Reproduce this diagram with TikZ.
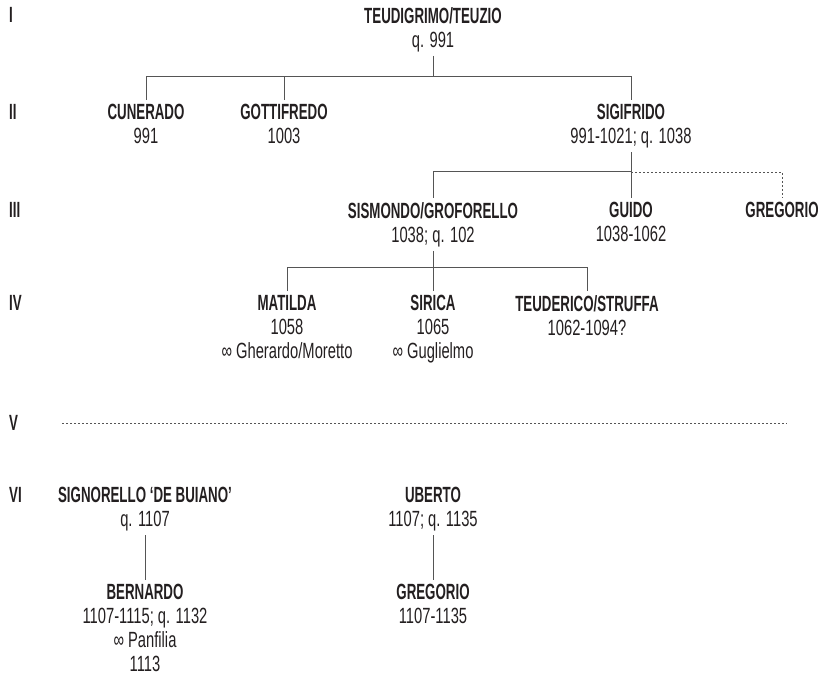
\documentclass[tikz,border=0pt]{standalone}
\usepackage{fontspec}
\setmainfont{Liberation Sans}[FakeStretch=0.67]
\newfontfamily\namefont{Liberation Sans}[FakeStretch=0.605]
\usetikzlibrary{calc}
\definecolor{ink}{HTML}{231F20}
\definecolor{rule}{HTML}{555555}
\tikzset{
  person/.style={anchor=north,align=center,inner xsep=2pt,inner ysep=4pt,text=ink,font=\fontsize{22}{24}\selectfont},
  gen/.style={anchor=west,inner sep=0pt,text=ink,font=\fontsize{22}{24}\selectfont\namefont\bfseries},
  link/.style={draw=rule,line width=1pt},
  guess/.style={draw=rule,line width=0.9pt,dash pattern=on 2pt off 2pt},
}
\newcommand{\pname}[1]{{\namefont\bfseries #1}}
\newcommand{\wed}{∞~}

\begin{document}
\begin{tikzpicture}[x=1pt,y=-1pt]
\useasboundingbox (0,0) rectangle (818,676);

% generations
\node[gen] (g1) at (9,15) {I};
\node[gen] (g2) at (9,112) {II};
\node[gen] (g3) at (9,210) {III};
\node[gen] (g4) at (9,303) {IV};
\node[gen] (g5) at (9,423) {V};
\node[gen] (g6) at (9,495) {VI};

\coordinate (bar1) at (0,77);
\coordinate (bar2) at (0,172);
\coordinate (bar3) at (0,267);

% I
\node[person] (teuz) at (433,3) {\pname{TEUDIGRIMO/TEUZIO}\\q. 991};

% II
\node[person] (cune) at (146,100) {\pname{CUNERADO}\\991};
\node[person] (gott) at (284,100) {\pname{GOTTIFREDO}\\1003};
\node[person] (sigi) at (631,100) {\pname{SIGIFRIDO}\\991-1021; q. 1038};

\draw[link] (teuz.south) -- (teuz.south |- bar1);
\draw[link] (cune.north) |- (sigi.north |- bar1) -- (sigi.north);
\draw[link] (gott.north) -- (gott.north |- bar1);

% III
\node[person] (sism) at (433,198) {\pname{SISMONDO/GROFORELLO}\\1038; q. 102};
\node[person] (guid) at (631,198) {\pname{GUIDO}\\1038-1062};
\node[person] (greg) at (782,198) {\pname{GREGORIO}};

\draw[link] (sigi.south) -- (guid.north);
\draw[link] (sism.north) |- (sigi.south |- bar2);
\draw[guess] (sigi.south |- bar2) -| (greg.north);

% IV
\node[person] (mati) at (287,291) {\pname{MATILDA}\\1058\\\wed Gherardo/Moretto};
\node[person] (siri) at (433,291) {\pname{SIRICA}\\1065\\\wed Guglielmo};
\node[person] (teud) at (587,291) {\pname{TEUDERICO/STRUFFA}\\1062-1094?};

\draw[link] (sism.south) -- (siri.north);
\draw[link] (mati.north) |- (teud.north |- bar3) -- (teud.north);

% V
\coordinate (v1) at (62,423);
\coordinate (v2) at (787,423);
\draw[guess] (v1) -- (v2);

% VI
\node[person] (sign) at (145,483) {\pname{SIGNORELLO ‘DE BUIANO’}\\q. 1107};
\node[person] (uber) at (433,483) {\pname{UBERTO}\\1107; q. 1135};
\node[person] (bern) at (145,580) {\pname{BERNARDO}\\1107-1115; q. 1132\\\wed Panfilia\\1113};
\node[person] (greh) at (433,580) {\pname{GREGORIO}\\1107-1135};

\draw[link] (sign.south) -- (bern.north);
\draw[link] (uber.south) -- (greh.north);

\end{tikzpicture}
\end{document}
